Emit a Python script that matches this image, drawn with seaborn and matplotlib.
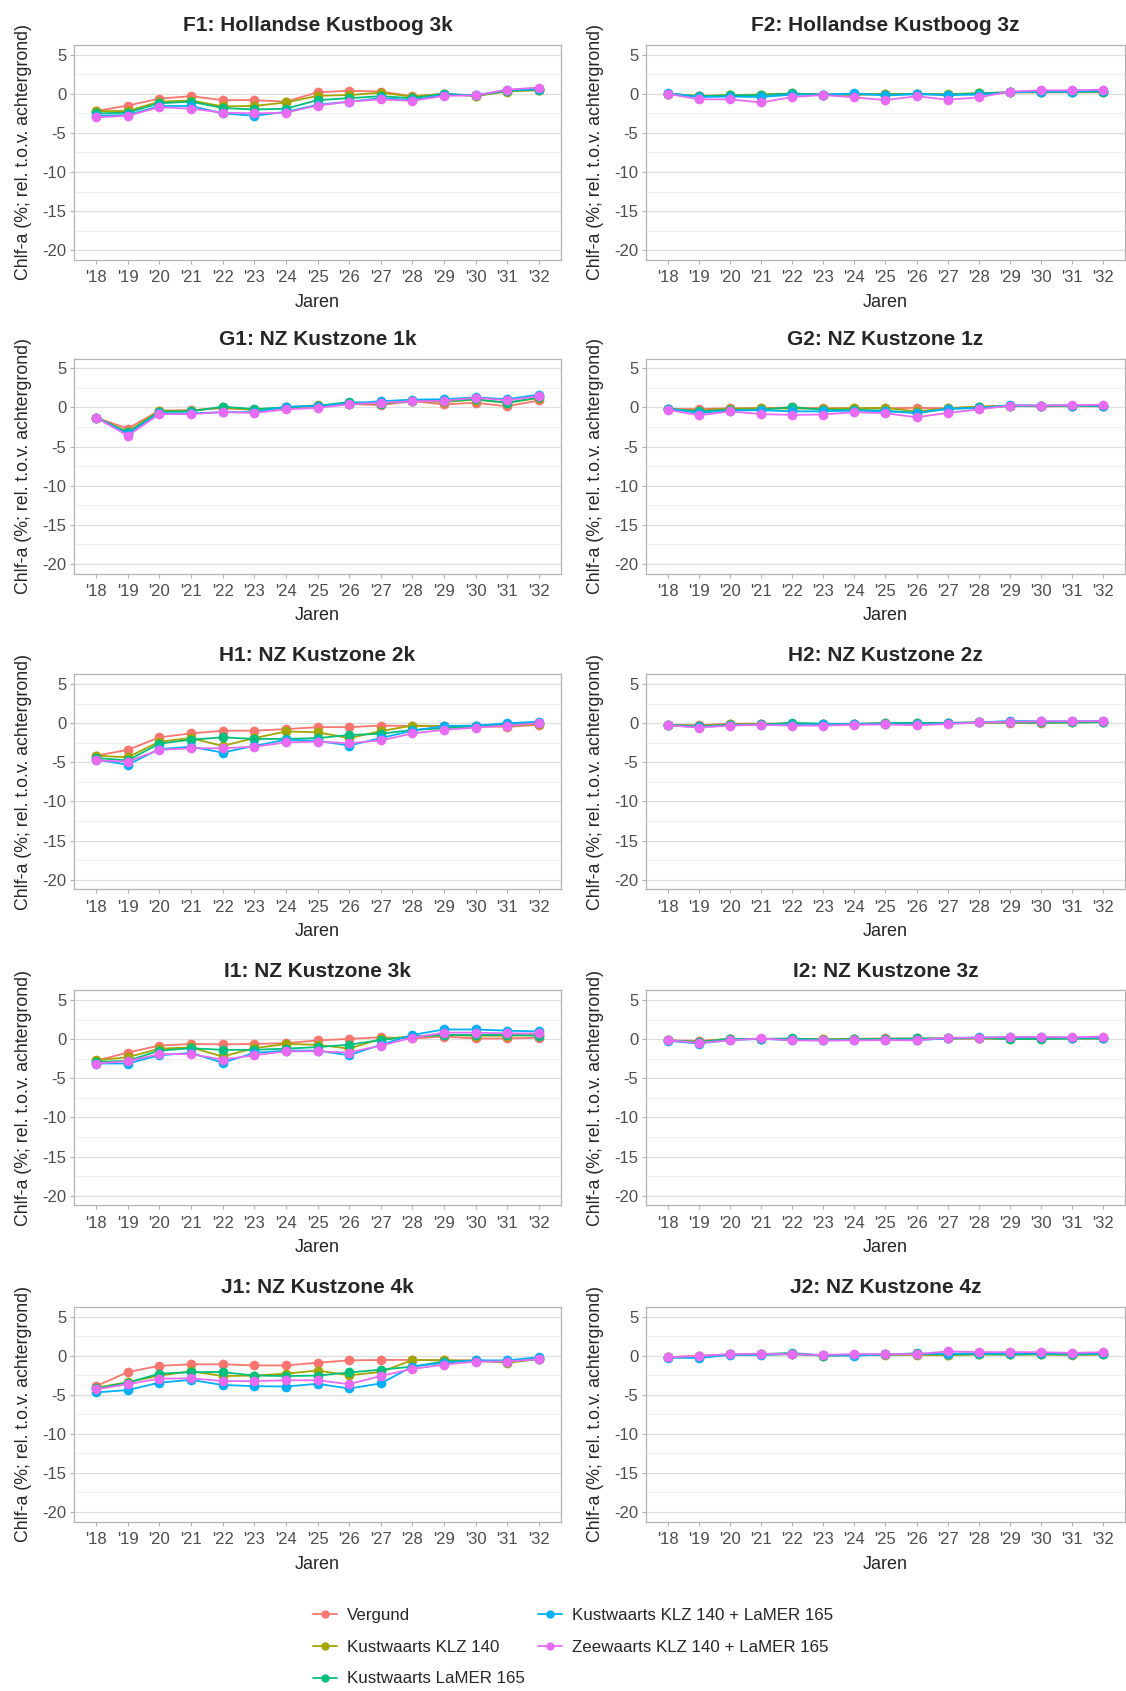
import pandas as pd
import matplotlib
matplotlib.use("Agg")
import matplotlib.pyplot as plt
from matplotlib.lines import Line2D
from matplotlib.ticker import MultipleLocator
import seaborn as sns

# jaren en scenario's
jaren = list(range(18, 33))
jaar_labels = ["'" + str(j) for j in jaren]
scenarios = ["Vergund", "Kustwaarts KLZ 140", "Kustwaarts LaMER 165",
             "Kustwaarts KLZ 140 + LaMER 165", "Zeewaarts KLZ 140 + LaMER 165"]
kleuren = ["#F8766D", "#A3A500", "#00BF7D", "#00B0F6", "#E76BF3"]

titels = ["F1: Hollandse Kustboog 3k", "F2: Hollandse Kustboog 3z",
          "G1: NZ Kustzone 1k", "G2: NZ Kustzone 1z",
          "H1: NZ Kustzone 2k", "H2: NZ Kustzone 2z",
          "I1: NZ Kustzone 3k", "I2: NZ Kustzone 3z",
          "J1: NZ Kustzone 4k", "J2: NZ Kustzone 4z"]

# per gebied: een rij per scenario (volgorde als 'scenarios')
f1 = [[-2.2, -1.5, -0.6, -0.3, -0.8, -0.8, -1.0, 0.2, 0.4, 0.3, -0.3, 0.0, -0.3, 0.4, 0.45],
      [-2.2, -2.2, -1.0, -0.85, -1.6, -1.55, -1.1, -0.25, -0.15, 0.15, -0.35, 0.0, -0.25, 0.3, 0.5],
      [-2.5, -2.4, -1.2, -1.0, -1.8, -2.0, -1.9, -0.8, -0.55, -0.3, -0.55, 0.0, -0.2, 0.4, 0.55],
      [-2.8, -2.7, -1.55, -1.55, -2.5, -2.8, -2.3, -1.4, -1.0, -0.55, -0.8, -0.1, -0.2, 0.5, 0.6],
      [-3.0, -2.8, -1.7, -1.9, -2.4, -2.5, -2.4, -1.5, -1.0, -0.7, -0.9, -0.25, -0.2, 0.55, 0.8]]
f2 = [[0.0, -0.3, -0.2, -0.1, 0.0, -0.1, -0.1, 0.0, 0.0, -0.1, 0.05, 0.2, 0.2, 0.2, 0.2],
      [0.0, -0.25, -0.15, -0.1, 0.05, -0.1, -0.1, 0.0, 0.0, -0.05, 0.1, 0.2, 0.2, 0.25, 0.25],
      [0.0, -0.3, -0.2, -0.15, 0.05, -0.1, -0.05, -0.1, 0.0, -0.1, 0.05, 0.2, 0.25, 0.25, 0.3],
      [0.1, -0.4, -0.35, -0.4, -0.1, -0.1, 0.05, -0.2, -0.05, -0.15, -0.1, 0.2, 0.3, 0.3, 0.4],
      [0.0, -0.7, -0.7, -1.1, -0.4, -0.15, -0.45, -0.8, -0.3, -0.75, -0.45, 0.3, 0.45, 0.45, 0.55]]
g1 = [[-1.3, -2.7, -0.4, -0.35, -0.1, -0.3, -0.1, 0.1, 0.45, 0.3, 0.8, 0.4, 0.6, 0.15, 0.9],
      [-1.3, -3.1, -0.45, -0.4, 0.0, -0.3, 0.0, 0.3, 0.45, 0.5, 0.85, 0.7, 1.0, 0.6, 1.2],
      [-1.3, -3.2, -0.55, -0.5, 0.1, -0.2, 0.0, 0.2, 0.7, 0.5, 0.85, 0.8, 1.05, 0.6, 1.3],
      [-1.3, -3.35, -0.75, -0.75, -0.6, -0.6, 0.1, 0.2, 0.5, 0.8, 1.0, 1.05, 1.3, 1.05, 1.65],
      [-1.3, -3.6, -0.85, -0.85, -0.6, -0.7, -0.25, -0.05, 0.4, 0.6, 0.8, 0.85, 1.25, 0.9, 1.45]]
g2 = [[-0.2, -0.2, -0.1, -0.1, 0.0, -0.1, -0.1, -0.1, -0.05, -0.1, 0.1, 0.2, 0.15, 0.15, 0.15],
      [-0.2, -0.4, -0.15, -0.1, -0.15, -0.15, -0.1, -0.05, -0.5, -0.1, 0.1, 0.2, 0.15, 0.2, 0.2],
      [-0.2, -0.5, -0.3, -0.3, 0.05, -0.3, -0.3, -0.4, -0.7, -0.2, 0.0, 0.15, 0.2, 0.25, 0.15],
      [-0.15, -0.7, -0.4, -0.35, -0.5, -0.5, -0.4, -0.5, -0.7, -0.15, -0.1, 0.3, 0.25, 0.25, 0.25],
      [-0.3, -1.0, -0.5, -0.85, -0.95, -0.9, -0.6, -0.75, -1.25, -0.7, -0.25, 0.25, 0.25, 0.3, 0.35]]
h1 = [[-4.15, -3.4, -1.8, -1.3, -0.95, -0.95, -0.75, -0.5, -0.5, -0.3, -0.35, -0.35, -0.4, -0.45, -0.2],
      [-4.15, -4.35, -2.35, -1.9, -2.9, -1.9, -1.05, -1.15, -1.9, -1.0, -0.3, -0.35, -0.4, -0.35, -0.1],
      [-4.45, -4.75, -2.6, -2.1, -1.8, -2.0, -2.0, -1.9, -1.5, -1.35, -0.85, -0.65, -0.4, -0.1, 0.05],
      [-4.65, -5.3, -3.3, -3.0, -3.75, -2.9, -2.1, -2.25, -2.85, -1.9, -0.95, -0.35, -0.3, 0.0, 0.2],
      [-4.75, -4.9, -3.4, -3.2, -3.2, -3.0, -2.45, -2.35, -2.55, -2.2, -1.3, -0.85, -0.55, -0.3, 0.0]]
h2 = [[-0.2, -0.25, -0.05, -0.05, -0.05, -0.1, -0.05, 0.0, 0.05, 0.05, 0.1, 0.05, 0.05, 0.1, 0.15],
      [-0.2, -0.35, -0.15, -0.1, -0.05, -0.1, -0.1, -0.05, -0.05, 0.0, 0.1, 0.1, 0.1, 0.1, 0.15],
      [-0.2, -0.4, -0.2, -0.15, 0.05, -0.05, -0.1, 0.05, 0.05, 0.05, 0.1, 0.1, 0.1, 0.1, 0.15],
      [-0.25, -0.5, -0.25, -0.2, -0.2, -0.15, -0.1, -0.1, -0.15, 0.0, 0.1, 0.3, 0.25, 0.25, 0.3],
      [-0.25, -0.55, -0.3, -0.2, -0.3, -0.3, -0.2, -0.15, -0.25, -0.1, 0.1, 0.2, 0.25, 0.25, 0.3]]
i1 = [[-2.75, -1.7, -0.8, -0.6, -0.65, -0.6, -0.5, -0.15, 0.05, 0.25, 0.1, 0.35, 0.1, 0.1, 0.2],
      [-2.7, -2.3, -1.2, -1.05, -2.2, -1.15, -0.6, -0.7, -1.2, 0.05, 0.35, 0.55, 0.45, 0.45, 0.55],
      [-2.9, -2.75, -1.45, -1.15, -1.35, -1.35, -1.2, -1.0, -0.7, -0.1, 0.35, 0.55, 0.55, 0.55, 0.45],
      [-3.1, -3.1, -2.05, -1.75, -3.0, -1.75, -1.45, -1.45, -2.05, -0.7, 0.55, 1.25, 1.25, 1.1, 1.0],
      [-3.1, -2.8, -1.9, -1.9, -2.6, -2.05, -1.55, -1.55, -1.7, -0.8, 0.2, 0.85, 0.85, 0.75, 0.75]]
i2 = [[-0.15, -0.2, 0.05, 0.05, 0.05, 0.0, 0.05, 0.1, 0.1, 0.1, 0.1, 0.1, 0.1, 0.1, 0.1],
      [-0.15, -0.3, 0.05, 0.05, 0.0, 0.0, 0.05, 0.05, 0.05, 0.1, 0.1, 0.05, 0.05, 0.1, 0.1],
      [-0.15, -0.35, 0.05, 0.05, 0.1, -0.05, 0.0, 0.05, 0.1, 0.1, 0.15, 0.05, 0.05, 0.1, 0.1],
      [-0.2, -0.55, -0.1, 0.05, -0.1, -0.15, -0.1, -0.1, -0.1, 0.1, 0.25, 0.25, 0.25, 0.2, 0.2],
      [-0.15, -0.45, -0.15, 0.1, -0.15, -0.15, -0.15, -0.1, -0.15, 0.2, 0.2, 0.3, 0.3, 0.25, 0.35]]
j1 = [[-3.9, -2.1, -1.3, -1.1, -1.1, -1.25, -1.25, -0.9, -0.6, -0.55, -0.55, -0.6, -0.6, -0.8, -0.45],
      [-4.1, -3.4, -2.55, -2.0, -2.6, -2.55, -2.3, -1.9, -2.5, -2.1, -0.55, -0.6, -0.65, -0.9, -0.45],
      [-4.2, -3.45, -2.3, -2.1, -2.1, -2.55, -2.6, -2.55, -2.15, -1.8, -1.4, -0.75, -0.65, -0.75, -0.45],
      [-4.7, -4.4, -3.45, -3.1, -3.75, -3.9, -3.95, -3.6, -4.2, -3.55, -1.4, -0.9, -0.6, -0.6, -0.2],
      [-4.3, -3.65, -2.95, -2.9, -3.25, -3.25, -3.15, -3.15, -3.65, -2.6, -1.7, -1.15, -0.75, -0.75, -0.45]]
j2 = [[-0.2, 0.0, 0.15, 0.15, 0.2, 0.05, 0.1, 0.15, 0.15, 0.1, 0.2, 0.15, 0.2, 0.15, 0.2],
      [-0.2, -0.1, 0.15, 0.15, 0.2, 0.0, 0.05, 0.1, 0.1, 0.05, 0.15, 0.15, 0.15, 0.1, 0.15],
      [-0.2, -0.2, 0.15, 0.2, 0.35, 0.0, 0.1, 0.15, 0.3, 0.15, 0.2, 0.15, 0.2, 0.15, 0.2],
      [-0.25, -0.3, 0.1, 0.1, 0.2, 0.05, 0.0, 0.15, 0.2, 0.25, 0.3, 0.3, 0.3, 0.25, 0.3],
      [-0.2, -0.05, 0.2, 0.25, 0.2, 0.1, 0.2, 0.2, 0.2, 0.55, 0.45, 0.45, 0.45, 0.35, 0.45]]

gebieden = [f1, f2, g1, g2, h1, h2, i1, i2, j1, j2]

# lange tabel voor seaborn
rijen = []
for titel, gebied in zip(titels, gebieden):
    for scen, waarden in zip(scenarios, gebied):
        for jaar, w in zip(jaren, waarden):
            rijen.append({"gebied": titel, "scenario": scen, "jaar": jaar, "chlf": w})
df = pd.DataFrame(rijen)

sns.set_style("white")
plt.rcParams["font.family"] = ["Liberation Sans", "DejaVu Sans"]
plt.rcParams["axes.unicode_minus"] = False

W, H = 1126, 1691
fig = plt.figure(figsize=(W / 100, H / 100), dpi=100)

kol_links = [74, 646]
kol_breed = [487, 479]
rij_top = [45, 358.6, 674.4, 990.4, 1306.8]
hoogte = 215

for k, titel in enumerate(titels):
    r, c = divmod(k, 2)
    ax = fig.add_axes([kol_links[c] / W, 1 - (rij_top[r] + hoogte) / H,
                       kol_breed[c] / W, hoogte / H])
    sub = df[df["gebied"] == titel]
    sns.lineplot(data=sub, x="jaar", y="chlf", hue="scenario", hue_order=scenarios,
                 palette=kleuren, marker="o", markersize=7, markeredgewidth=0,
                 linewidth=1.3, legend=False, errorbar=None, ax=ax)
    ax.set_xlim(17.3, 32.7)
    ax.set_ylim(-21.25, 6.25)
    ax.set_xticks(jaren)
    ax.set_xticklabels(jaar_labels)
    ax.set_yticks([-20, -15, -10, -5, 0, 5])
    ax.yaxis.set_minor_locator(MultipleLocator(2.5))
    ax.grid(axis="y", which="major", color="#DEDEDE", linewidth=0.9)
    ax.grid(axis="y", which="minor", color="#EDEDED", linewidth=0.6)
    ax.grid(axis="x", visible=False)
    ax.set_axisbelow(True)
    for sp in ax.spines.values():
        sp.set_color("#B3B3B3")
        sp.set_linewidth(0.9)
    ax.tick_params(axis="both", which="major", length=3, width=0.8, color="#B3B3B3",
                   labelsize=12, labelcolor="#4D4D4D", left=True, bottom=True)
    ax.tick_params(axis="x", which="major", pad=4.5)
    ax.tick_params(axis="y", which="major", pad=2.5)
    ax.tick_params(axis="y", which="minor", length=0)
    ax.set_title(titel, fontsize=15, fontweight="bold", pad=10)
    ax.set_xlabel("Jaren", fontsize=13, labelpad=6)
    ax.set_ylabel("Chlf-a (%; rel. t.o.v. achtergrond)", fontsize=12.8, labelpad=7.5)

handles = [Line2D([0], [0], color=kl, marker="o", markersize=6, markeredgewidth=0,
                  linewidth=1.3) for kl in kleuren]
fig.legend(handles, scenarios, loc="center", bbox_to_anchor=(573 / W, 1 - 1647 / H),
           ncol=2, frameon=False, fontsize=12.2, handlelength=1.4, handletextpad=0.6,
           columnspacing=0.8, labelspacing=1.0, borderpad=0)

fig.savefig("out.png", dpi=100)
